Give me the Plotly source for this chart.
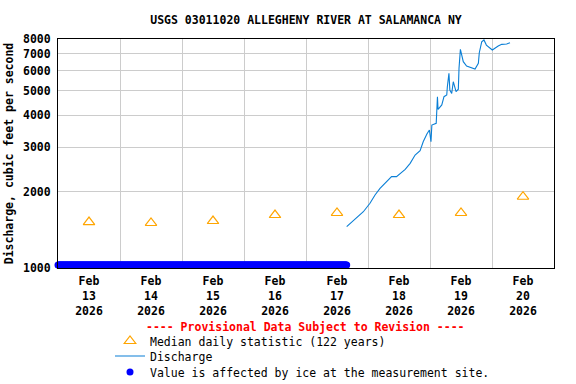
import plotly.graph_objects as go
import pandas as pd

title = "USGS 03011020 ALLEGHENY RIVER AT SALAMANCA NY"
y_title = "Discharge, cubic feet per second"

# Median daily statistic (122 years), plotted at noon of each day
median_dates = ["2026-02-13 12:00", "2026-02-14 12:00", "2026-02-15 12:00", "2026-02-16 12:00",
                "2026-02-17 12:00", "2026-02-18 12:00", "2026-02-19 12:00", "2026-02-20 12:00"]
median_values = [1518, 1505, 1532, 1618, 1648, 1618, 1648, 1910]

# Discharge
discharge_times = [
    "2026-02-17 15:45", "2026-02-17 19:36", "2026-02-17 22:12", "2026-02-18 00:46",
    "2026-02-18 02:43", "2026-02-18 04:39", "2026-02-18 07:12", "2026-02-18 09:07",
    "2026-02-18 11:02", "2026-02-18 12:58", "2026-02-18 14:24", "2026-02-18 16:19",
    "2026-02-18 18:14", "2026-02-18 20:10", "2026-02-18 21:22", "2026-02-18 22:48",
    "2026-02-18 23:46", "2026-02-19 00:23", "2026-02-19 00:43", "2026-02-19 02:24",
    "2026-02-19 02:38", "2026-02-19 02:53", "2026-02-19 03:07", "2026-02-19 04:34",
    "2026-02-19 05:25", "2026-02-19 06:29", "2026-02-19 06:43", "2026-02-19 07:20",
    "2026-02-19 07:41", "2026-02-19 08:24", "2026-02-19 09:01", "2026-02-19 10:05",
    "2026-02-19 10:58", "2026-02-19 11:14", "2026-02-19 11:46", "2026-02-19 12:14",
    "2026-02-19 12:53", "2026-02-19 14:10", "2026-02-19 16:05", "2026-02-19 17:26",
    "2026-02-19 18:43", "2026-02-19 19:05", "2026-02-19 20:01", "2026-02-19 20:53",
    "2026-02-19 21:50", "2026-02-20 00:07", "2026-02-20 02:24", "2026-02-20 03:45",
    "2026-02-20 05:41", "2026-02-20 06:58",
]
discharge_values = [
    1455, 1570, 1667, 1800,
    1940, 2062, 2190, 2292,
    2292, 2376, 2450, 2587,
    2790, 2901, 3147, 3375,
    3500, 3147, 3663, 3722,
    4198, 4738, 4220, 4395,
    4738, 4810, 5187, 5858,
    5034, 4880, 5428, 4960,
    5070, 6130, 7280, 6918,
    6510, 6260, 6165, 6093,
    6412, 7063, 7800, 7930,
    7570, 7237, 7505, 7620,
    7640, 7736,
]

# Ice-affected period (markers drawn along the bottom of the axis)
ice_start = "2026-02-13 00:00"
ice_end = "2026-02-17 15:45"
ice_level = 1028

y_ticks = [1000, 2000, 3000, 4000, 5000, 6000, 7000, 8000]
x_label_ticks = ["2026-02-13 12:00", "2026-02-14 12:00", "2026-02-15 12:00", "2026-02-16 12:00",
                 "2026-02-17 12:00", "2026-02-18 12:00", "2026-02-19 12:00", "2026-02-20 12:00"]
x_label_text = ["Feb<br>13<br>2026", "Feb<br>14<br>2026", "Feb<br>15<br>2026", "Feb<br>16<br>2026",
                "Feb<br>17<br>2026", "Feb<br>18<br>2026", "Feb<br>19<br>2026", "Feb<br>20<br>2026"]
x_grid = ["2026-02-14", "2026-02-15", "2026-02-16", "2026-02-17",
          "2026-02-18", "2026-02-19", "2026-02-20"]

ice_times = [t.strftime("%Y-%m-%d %H:%M") for t in pd.date_range(ice_start, ice_end, freq="15min")]

FONT = "DejaVu Sans Mono"
fs = 11.5

# plot area in pixels
L, R, T, B = 58, 554, 39, 268
W, H = R - L, B - T


def px_x(x):
    return (x - L) / W


def px_y(y):
    return (B - y) / H


fig = go.Figure()
fig.add_trace(go.Scatter(
    x=median_dates, y=median_values, mode="markers",
    name="Median daily statistic (122 years)", legend="legend",
    marker=dict(symbol="triangle-up-open", color="#ffa500", size=10, line=dict(width=1.2)),
))
fig.add_trace(go.Scatter(
    x=discharge_times, y=discharge_values, mode="lines",
    name="Discharge", legend="legend2", line=dict(color="#0a7fd6", width=1.1),
))
fig.add_trace(go.Scatter(
    x=ice_times, y=[ice_level] * len(ice_times), mode="markers",
    name="Value is affected by ice at the measurement site.", legend="legend3",
    marker=dict(color="#0000ff", size=7, line=dict(width=0)), cliponaxis=False,
))

leg_common = dict(x=px_x(110), xanchor="left", yanchor="middle",
                  font=dict(family=FONT, size=fs), bgcolor="rgba(0,0,0,0)", borderwidth=0)

fig.update_layout(
    width=576, height=384,
    margin=dict(l=L, r=576 - R, t=T, b=384 - B, autoexpand=False),
    paper_bgcolor="white", plot_bgcolor="white",
    font=dict(family=FONT, size=fs, color="black"),
    title=dict(text="<b>" + title + "</b>", x=306 / 576, xanchor="center",
               y=1 - 20 / 384, yanchor="middle", font=dict(family=FONT, size=fs)),
    showlegend=True,
    legend=dict(y=px_y(341), **leg_common),
    legend2=dict(y=px_y(356), **leg_common),
    legend3=dict(y=px_y(372), **leg_common),
)

fig.update_xaxes(
    type="date", range=["2026-02-13 00:00", "2026-02-21 00:00"],
    tickmode="array", tickvals=x_label_ticks, ticktext=["<b>" + t + "</b>" for t in x_label_text],
    showgrid=False, ticks="", zeroline=False,
    showline=True, linecolor="black", linewidth=1, mirror=True,
    minor=dict(tickvals=x_grid, showgrid=True, gridcolor="#cccccc", gridwidth=1, ticks=""),
    tickfont=dict(family=FONT, size=fs), ticklabelstandoff=2,
)
fig.update_yaxes(
    type="log", range=[3, 3.90309],
    tickmode="array", tickvals=y_ticks, ticktext=["<b>%d</b>" % v for v in y_ticks],
    showgrid=True, gridcolor="#cccccc", gridwidth=1, ticks="", zeroline=False,
    showline=True, linecolor="black", linewidth=1, mirror=True,
    title=dict(text="<b>" + y_title + "</b>", font=dict(family=FONT, size=fs), standoff=6),
    tickfont=dict(family=FONT, size=fs), ticklabelstandoff=4,
)

fig.add_annotation(
    text="<b>---- Provisional Data Subject to Revision ----</b>",
    xref="paper", yref="paper", x=px_x(305), y=px_y(327),
    xanchor="center", yanchor="middle", showarrow=False,
    font=dict(family=FONT, size=fs, color="red"),
)

fig.write_html("out.html", post_script="document.body.style.margin='0';",
               config={"displayModeBar": False})
